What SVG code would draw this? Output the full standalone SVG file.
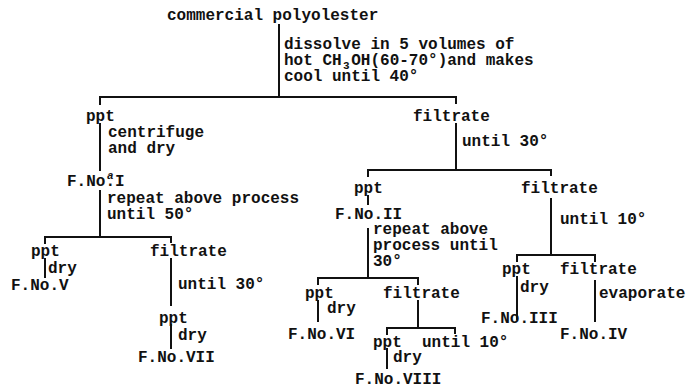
<svg xmlns="http://www.w3.org/2000/svg" width="691" height="388" viewBox="0 0 691 388">
<style>
text{font-family:"Liberation Mono","DejaVu Sans Mono",monospace;font-size:16px;font-weight:bold;fill:#111}
.ln{stroke:#111;stroke-width:2;fill:none}
.sm{font-size:11px}
</style>
<rect width="691" height="388" fill="#fff"/>
<g id="connectors">
<path class="ln" d="M279,24V97"/>
<path class="ln" d="M100,105V97H456V104"/>
<path class="ln" d="M100,123V171"/>
<path class="ln" d="M100,190V237"/>
<path class="ln" d="M45,244V237H171V243"/>
<path class="ln" d="M45,258V278"/>
<path class="ln" d="M171,258V306"/>
<path class="ln" d="M171,324V349"/>
<path class="ln" d="M456,123V170"/>
<path class="ln" d="M368,177V170H551V176"/>
<path class="ln" d="M368,195V205"/>
<path class="ln" d="M368,228V278"/>
<path class="ln" d="M318,285V278H418V285"/>
<path class="ln" d="M318,300V322"/>
<path class="ln" d="M418,300V328"/>
<path class="ln" d="M387,335V328H455V334"/>
<path class="ln" d="M387,348V369"/>
<path class="ln" d="M551,198V255"/>
<path class="ln" d="M517,262V255H595V262"/>
<path class="ln" d="M517,276V320"/>
<path class="ln" d="M595,280V322"/>
</g>
<g id="start"><text x="167" y="20">commercial polyolester</text></g>
<g id="step1">
<text x="284" y="49">dissolve in 5 volumes of</text>
<text x="284" y="65">hot CH<tspan class="sm" dx="1.5" dy="4">3</tspan><tspan dx="1.5" dy="-4">OH(60-70°)and makes</tspan></text>
<text x="284" y="81">cool until 40°</text>
</g>
<g id="ppt1"><text x="86" y="121">ppt</text><text x="108" y="137">centrifuge</text><text x="108" y="153">and dry</text></g>
<g id="fno1"><text x="67" y="186">F.No<tspan class="sm" font-style="italic" dx="1.5" dy="-7">a</tspan><tspan dx="-8.1" dy="7">.I</tspan></text>
<text x="107" y="203">repeat above process</text><text x="107" y="219">until 50°</text></g>
<g id="ppt2"><text x="31" y="256">ppt</text><text x="48" y="273">dry</text><text x="11" y="290">F.No.V</text></g>
<g id="filt2"><text x="150" y="256">filtrate</text><text x="178" y="289">until 30°</text></g>
<g id="ppt3"><text x="159" y="323">ppt</text><text x="178" y="340">dry</text><text x="138" y="362">F.No.VII</text></g>
<g id="filt1"><text x="413" y="121">filtrate</text><text x="462" y="146">until 30°</text></g>
<g id="ppt4"><text x="354" y="193">ppt</text><text x="335" y="219">F.No.II</text>
<text x="373" y="234">repeat above</text><text x="373" y="250">process until</text><text x="373" y="266">30°</text></g>
<g id="filt4"><text x="521" y="193">filtrate</text><text x="560" y="224">until 10°</text></g>
<g id="ppt5"><text x="305" y="298">ppt</text><text x="327" y="313">dry</text><text x="288" y="339">F.No.VI</text></g>
<g id="filt5"><text x="383" y="298">filtrate</text></g>
<g id="ppt6"><text x="373" y="347">ppt</text><text x="422" y="347">until 10°</text><text x="393" y="362">dry</text><text x="355" y="384">F.No.VIII</text></g>
<g id="ppt7"><text x="502" y="274">ppt</text><text x="520" y="292">dry</text><text x="481" y="323">F.No.III</text></g>
<g id="filt7"><text x="560" y="274">filtrate</text><text x="599" y="298">evaporate</text><text x="560" y="339">F.No.IV</text></g>
</svg>
